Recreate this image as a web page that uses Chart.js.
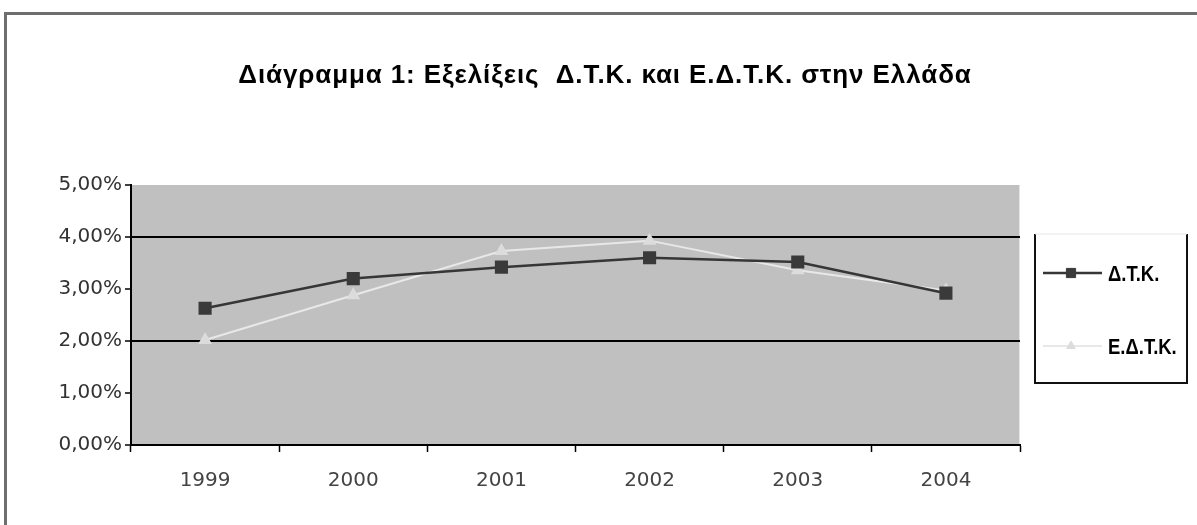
<!DOCTYPE html>
<html>
<head>
<meta charset="utf-8">
<script src="https://cdn.jsdelivr.net/npm/chart.js@4/dist/chart.umd.min.js"></script>
<style>
  html,body{margin:0;padding:0;background:#fff;}
  #wrap{position:relative;width:1197px;height:525px;overflow:hidden;}
  #frame{position:absolute;left:4px;top:12px;width:1220px;height:600px;border:3px solid #6e6e6e;box-sizing:border-box;}
  canvas{position:absolute;left:0;top:0;}
</style>
</head>
<body>
<div id="wrap">
  <div id="frame"></div>
  <canvas id="c" width="1197" height="525"></canvas>
</div>
<script>
// Δεδομένα (ποσοστά %)
const years = ['1999','2000','2001','2002','2003','2004'];
const dtk   = [2.63, 3.20, 3.42, 3.60, 3.52, 2.92];
const edtk  = [2.02, 2.88, 3.73, 3.93, 3.36, 2.97];
const yTicks = [0,1,2,3,4,5];
const gridAt = [2,4];

const titleText = 'Διάγραμμα 1: Εξελίξεις  Δ.Τ.Κ. και Ε.Δ.Τ.Κ. στην Ελλάδα';

// γκρι φόντο στην περιοχή σχεδίασης + τίτλος
const plotBg = {
  id:'plotBg',
  beforeDraw(chart){
    const {ctx, chartArea:a} = chart;
    ctx.save();
    ctx.fillStyle = '#c0c0c0';
    ctx.fillRect(a.left, a.top, a.right-a.left, a.bottom-a.top);
    ctx.strokeStyle = '#e4e4e4';
    ctx.lineWidth = 1;
    ctx.beginPath(); ctx.moveTo(a.right-0.5, a.top); ctx.lineTo(a.right-0.5, a.bottom); ctx.stroke();

    ctx.fillStyle = '#000';
    ctx.font = 'bold 26px "Liberation Sans", Arial, sans-serif';
    ctx.letterSpacing = '0.9px';
    ctx.textAlign = 'center';
    ctx.textBaseline = 'alphabetic';
    ctx.fillText(titleText, 605, 83);
    ctx.restore();
  }
};

// υπόμνημα σε πλαίσιο δεξιά
const boxLegend = {
  id:'boxLegend',
  afterDraw(chart){
    const ctx = chart.ctx;
    const x0 = 1035, y0 = 234, x1 = 1187, y1 = 383;
    ctx.save();
    ctx.strokeStyle = '#111';
    ctx.lineWidth = 2;
    ctx.beginPath();
    ctx.moveTo(x0, y0); ctx.lineTo(x0, y1); ctx.lineTo(x1, y1); ctx.lineTo(x1, y0);
    ctx.stroke();
    ctx.strokeStyle = '#e6e6e6';
    ctx.lineWidth = 1;
    ctx.beginPath(); ctx.moveTo(x0, y0); ctx.lineTo(x1, y0); ctx.stroke();
    const rows = [273, 346];
    chart.data.datasets.forEach((ds, i) => {
      const y = rows[i];
      ctx.strokeStyle = ds.borderColor;
      ctx.lineWidth = ds.borderWidth;
      ctx.beginPath(); ctx.moveTo(1043, y); ctx.lineTo(1102, y); ctx.stroke();
      ctx.fillStyle = ds.pointBackgroundColor;
      ctx.strokeStyle = ds.pointBorderColor;
      ctx.lineWidth = 1;
      Chart.helpers.drawPoint(ctx, {pointStyle: ds.pointStyle, radius: ds.pointRadius - 1, borderWidth: 1}, 1071, y);
      ctx.save();
      ctx.translate(1108, y + 2);
      ctx.scale(0.84, 1);
      ctx.fillStyle = '#000';
      ctx.font = 'bold 22px "Liberation Sans", Arial, sans-serif';
      ctx.textBaseline = 'middle';
      ctx.textAlign = 'left';
      ctx.fillText(ds.label, 0, 0);
      ctx.restore();
    });
    ctx.restore();
  }
};

new Chart(document.getElementById('c'), {
  type:'line',
  data:{
    labels: years,
    datasets:[
      {
        label:'Δ.Τ.Κ.', data: dtk,
        borderColor:'#363636', borderWidth:2.5,
        pointStyle:'rect', pointRadius:7.5,
        pointBackgroundColor:'#3a3a3a', pointBorderColor:'#3a3a3a',
        tension:0
      },
      {
        label:'Ε.Δ.Τ.Κ.', data: edtk,
        borderColor:'#e8e8e8', borderWidth:2,
        pointStyle:'triangle', pointRadius:6,
        pointBackgroundColor:'#dcdcdc', pointBorderColor:'#dcdcdc',
        tension:0
      }
    ]
  },
  options:{
    responsive:false,
    animation:false,
    layout:{padding:{left:0, right:177, top:185, bottom:30}},
    plugins:{
      legend:{display:false},
      tooltip:{enabled:false},
      title:{display:false}
    },
    scales:{
      x:{
        offset:true,
        grid:{offset:true, color:'transparent', tickColor:'#000', tickLength:7, tickWidth:1.5},
        border:{color:'#000', width:2},
        ticks:{color:'#444', padding:17, font:{family:'"DejaVu Sans", sans-serif', size:20}},
        afterFit(s){ s.height = 50; }
      },
      y:{
        min:0, max:5,
        afterBuildTicks(s){ s.ticks = yTicks.map(v => ({value:v})); },
        grid:{
          color: c => gridAt.includes(c.tick && c.tick.value) ? '#000' : 'transparent',
          lineWidth:2,
          tickColor:'#000', tickLength:6, tickWidth:1.5
        },
        border:{color:'#000', width:2},
        ticks:{
          color:'#333', padding:3,
          font:{family:'"DejaVu Sans", sans-serif', size:20},
          callback: v => v.toFixed(2).replace('.', ',') + '%'
        },
        afterFit(s){ s.width = 131; }
      }
    }
  },
  plugins:[plotBg, boxLegend]
});
</script>
</body>
</html>
